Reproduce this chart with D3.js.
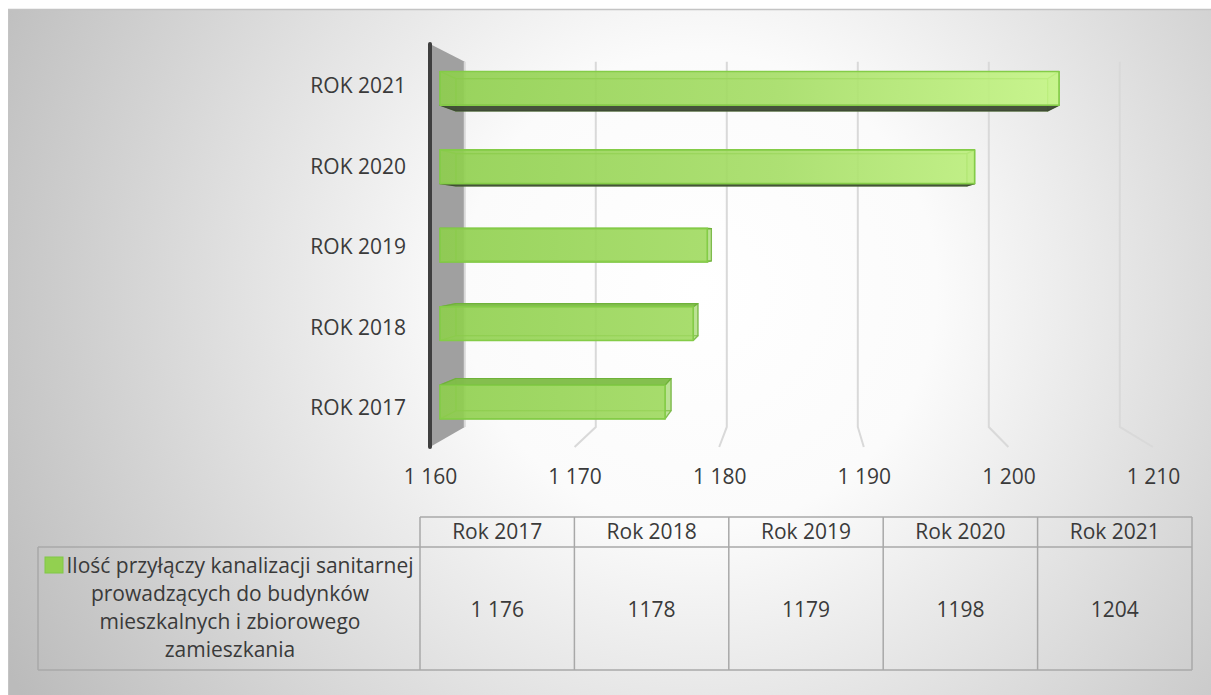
<!DOCTYPE html>
<html><head><meta charset="utf-8">
<script src="https://cdn.jsdelivr.net/npm/d3@7/dist/d3.min.js"></script>
<style>body{margin:0;background:#fff}svg{display:block}text{font-family:"Open Sans",sans-serif;fill:#3a3a3a}</style>
</head><body><svg id="c" width="1211" height="695"></svg>
<script>
// ---- data ----
const categories = ["ROK 2017", "ROK 2018", "ROK 2019", "ROK 2020", "ROK 2021"];
const values = [1176, 1178, 1179, 1198, 1204];
const tickValues = [1160, 1170, 1180, 1190, 1200, 1210];
const tickLabels = ["1 160", "1 170", "1 180", "1 190", "1 200", "1 210"];
const tableHeaders = ["Rok 2017", "Rok 2018", "Rok 2019", "Rok 2020", "Rok 2021"];
const tableValues = ["1 176", "1178", "1179", "1198", "1204"];
const seriesLines = ["Ilość przyłączy kanalizacji sanitarnej", "prowadzących do budynków", "mieszkalnych i zbiorowego", "zamieszkania"];

const FS = "21px";
const svg = d3.select("#c");
const defs = svg.append("defs");
const bg = defs.append("radialGradient").attr("id", "bg").attr("gradientUnits", "userSpaceOnUse")
  .attr("cx", 700).attr("cy", 290).attr("r", 790);
bg.append("stop").attr("offset", 0).attr("stop-color", "#ffffff");
bg.append("stop").attr("offset", 0.3).attr("stop-color", "#fbfbfb");
bg.append("stop").attr("offset", 1).attr("stop-color", "#bbbbbb");
const bf = defs.append("linearGradient").attr("id", "barf").attr("gradientUnits", "userSpaceOnUse")
  .attr("x1", 440).attr("x2", 1060).attr("y1", 0).attr("y2", 0);
bf.append("stop").attr("offset", 0).attr("stop-color", "#8ecf4c");
bf.append("stop").attr("offset", 0.55).attr("stop-color", "#a6de66");
bf.append("stop").attr("offset", 1).attr("stop-color", "#c8f888");

// chart background
svg.append("rect").attr("x", 8).attr("y", 9).attr("width", 1203).attr("height", 686)
  .attr("fill", "url(#bg)");
svg.append("line").attr("x1", 8).attr("x2", 1211).attr("y1", 9.5).attr("y2", 9.5).attr("stroke", "#c4c4c4").attr("stroke-width", 1.5);
svg.append("line").attr("x1", 8.5).attr("x2", 8.5).attr("y1", 9).attr("y2", 695).attr("stroke", "#c4c4c4").attr("stroke-width", 1);

// ---- 3D projection ----
const VP = { x: 800, y: 234 };
const sWall = 0.906, sFront = 0.973, sBack = 0.93;
const proj = (X, Y, s) => [VP.x + (X - VP.x) * s, VP.y + (Y - VP.y) * s];
const x = d3.scaleLinear().domain([1160, 1210]).range([430, 1153]);
const y = d3.scaleBand().domain(categories.slice().reverse()).range([44, 447])
  .paddingInner(0.57).paddingOuter(0.285);
const topY = 44, floorY = 447;

// left wall
const wall = [proj(x(1160), topY, 1), proj(x(1160), topY, sWall), proj(x(1160), floorY, sWall), proj(x(1160), floorY, 1)];
svg.append("polygon").attr("points", wall.join(" ")).attr("fill", "#a0a0a0");

// gridlines
const grid = svg.append("g");
tickValues.forEach(t => {
  const a = proj(x(t), topY, sWall), b = proj(x(t), floorY, sWall), c = proj(x(t), floorY, 1);
  const pts = t === tickValues[0] ? [a, b] : [a, b, c];
  grid.append("polyline").attr("points", pts.join(" ")).attr("fill", "none")
    .attr("stroke", "#d9d9d9").attr("stroke-width", 2);
});
svg.append("line").attr("x1", x(1160)).attr("x2", x(1160)).attr("y1", topY).attr("y2", floorY)
  .attr("stroke", "#3f3f3f").attr("stroke-width", 4).attr("stroke-linecap", "round");

// bars
const bars = svg.append("g");
categories.forEach((c, i) => {
  const X0 = x(1160), X1 = x(values[i]), Y0 = y(c), Y1 = Y0 + y.bandwidth();
  const F = { tl: proj(X0, Y0, sFront), tr: proj(X1, Y0, sFront), br: proj(X1, Y1, sFront), bl: proj(X0, Y1, sFront) };
  const B = { tl: proj(X0, Y0, sBack), tr: proj(X1, Y0, sBack), br: proj(X1, Y1, sBack), bl: proj(X0, Y1, sBack) };
  const g = bars.append("g");
  const face = (pts, fill, op, stroke, sop) => g.append("polygon").attr("points", pts.join(" "))
    .attr("fill", fill).attr("fill-opacity", op).attr("stroke", stroke).attr("stroke-opacity", sop)
    .attr("stroke-width", 1.2).attr("stroke-linejoin", "round");
  const upper = (Y0 + Y1) / 2 < VP.y;
  face([B.tl, B.tr, B.br, B.bl], "#92d050", 0.35, "#6fb23a", 0.7);
  if (upper) face([F.tl, F.tr, B.tr, B.tl], "#92d050", 0.3, "#6fb23a", 0.6);
  else face([F.bl, F.br, B.br, B.bl], "#92d050", 0.3, "#6fb23a", 0.6);
  face([F.tl, B.tl, B.bl, F.bl], "#92d050", 0.3, "#6fb23a", 0.6);
  face([F.tr, B.tr, B.br, F.br], "#92d050", 0.4, "#6fb23a", 0.6);
  if (upper) face([F.bl, F.br, B.br, B.bl], "#3e4a34", 0.95, "#3e4a34", 1);
  else face([F.tl, F.tr, B.tr, B.tl], "#7fbd48", 0.95, "#6fb23a", 1);
  g.append("polygon").attr("points", [F.tl, F.tr, F.br, F.bl].join(" "))
    .attr("fill", "url(#barf)").attr("fill-opacity", 0.85)
    .attr("stroke", "#84cc47").attr("stroke-width", 1.6).attr("stroke-linejoin", "round");
});

// x-axis labels
const xAxis = d3.axisBottom(x).tickValues(tickValues).tickFormat((d, i) => tickLabels[i]).tickSize(0).tickPadding(0);
const xa = svg.append("g").attr("transform", "translate(0,469)").call(xAxis);
xa.select(".domain").remove();
xa.selectAll("text").style("font-size", FS).attr("font-family", null);

// category labels
const yAxis = d3.axisLeft(y).tickSize(0).tickPadding(0);
const ya = svg.append("g").attr("transform", "translate(406,2)").call(yAxis);
ya.select(".domain").remove();
ya.selectAll("text").style("font-size", FS).attr("font-family", null);

// ---- data table ----
const col = d3.scaleBand().domain(tableHeaders).range([420, 1192]);
const t = svg.append("g");
const lc = "#a8a8a8";
const L = (x1, y1, x2, y2) => t.append("line").attr("x1", x1).attr("y1", y1).attr("x2", x2).attr("y2", y2)
  .attr("stroke", lc).attr("stroke-width", 1.5);
L(420, 517, 1192, 517); L(38, 547, 1192, 547); L(38, 670, 1192, 670); L(38, 547, 38, 670);
tableHeaders.forEach(h => L(col(h), 517, col(h), 670));
L(1192, 517, 1192, 670);
tableHeaders.forEach((h, i) => {
  const cx = col(h) + col.bandwidth() / 2;
  t.append("text").attr("x", cx).attr("y", 539).attr("text-anchor", "middle").style("font-size", FS).text(h);
  t.append("text").attr("x", cx).attr("y", 617).attr("text-anchor", "middle").style("font-size", FS).text(tableValues[i]);
});
const tx = t.append("text").attr("text-anchor", "middle").style("font-size", FS);
seriesLines.forEach((ln, i) => {
  tx.append("tspan").attr("x", i === 0 ? 240 : 230).attr("y", 573 + i * 28).text(ln);
});
t.append("rect").attr("x", 45).attr("y", 557).attr("width", 18).attr("height", 16)
  .attr("fill", "#92d050").attr("stroke", "#80c846").attr("stroke-width", 1);
</script></body></html>
